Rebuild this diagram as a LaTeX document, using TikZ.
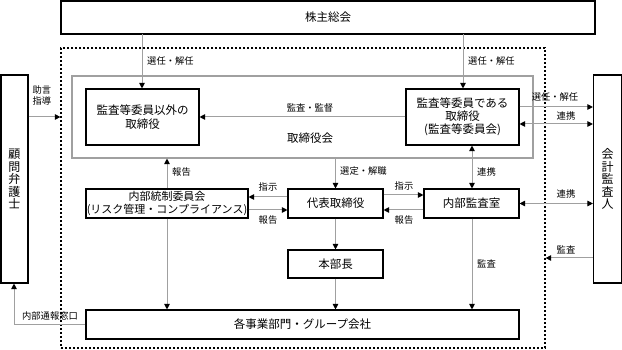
\documentclass[tikz,border=0pt]{standalone}
\usepackage{fontspec}
\setmainfont{Noto Sans CJK JP}
\usetikzlibrary{arrows.meta}
\definecolor{linegray}{HTML}{A0A0A0}
\tikzset{
  box/.style={draw=black, line width=1.1pt, fill=white, inner sep=0pt, align=center,
    font=\fontsize{11.5}{13.5}\selectfont},
  vbox/.style={box, font=\fontsize{12}{12.5}\selectfont},
  lbl/.style={inner sep=0pt, font=\fontsize{9.3}{11}\selectfont, align=center},
  conn/.style={draw=linegray, line width=1pt},
  tip/.style={conn, -{Triangle[color=black,length=5.5pt,width=5.5pt]}},
  dtip/.style={conn, {Triangle[color=black,length=5.5pt,width=5.5pt]}-{Triangle[color=black,length=5.5pt,width=5.5pt]}},
}
\begin{document}
\begin{tikzpicture}[x=1pt,y=-1pt]
\useasboundingbox (0,0) rectangle (622,350);
% outer dashed region
\node[draw=black, line width=1.2pt, dash pattern=on 2pt off 2pt, minimum width=484pt, minimum height=300pt, inner sep=0pt] (outer) at (303,198) {};
% board region
\node[draw=linegray, line width=1.1pt, minimum width=461pt, minimum height=82pt, inner sep=0pt] (board) at (302.5,117) {};
\node[inner sep=0pt, font=\fontsize{11.5}{13.5}\selectfont] (boardlbl) at (310,138) {取締役会};
% boxes
\node[box, minimum width=534pt, minimum height=33pt] (kabu) at (328,17.5) {株主総会};
\node[box, minimum width=113pt, minimum height=56pt] (dir1) at (142.5,117) {監査等委員以外の\\取締役};
\node[box, minimum width=113pt, minimum height=56pt, font=\fontsize{11.5}{13}\selectfont] (dir2) at (462.5,117) {監査等委員である\\取締役\\(監査等委員会)};
\node[vbox, minimum width=27pt, minimum height=208pt] (komon) at (14.5,179) {顧\\問\\弁\\護\\士};
\node[vbox, minimum width=28pt, minimum height=208pt] (kaikei) at (607.5,179) {会\\計\\監\\査\\人};
\node[box, minimum width=162pt, minimum height=29pt, font=\fontsize{11}{13}\selectfont] (naibu) at (167,203.5) {内部統制委員会\\(リスク管理・コンプライアンス)};
\node[box, minimum width=95pt, minimum height=29pt] (daihyo) at (335.5,203.5) {代表取締役};
\node[box, minimum width=95pt, minimum height=29pt] (kansa) at (471.5,203.5) {内部監査室};
\node[box, minimum width=95pt, minimum height=28pt] (honbu) at (335.5,264) {本部長};
\node[box, minimum width=433pt, minimum height=29pt] (jigyo) at (302.5,324.5) {各事業部門・グループ会社};
% coordinates
\coordinate (c1) at (142,34);
\coordinate (c2) at (463,34);
\coordinate (cw) at (14,324.5);
% connectors
\draw[tip] (c1) -- (dir1.north -| c1);
\node[lbl, anchor=west] at (147,61) {選任・解任};
\draw[tip] (c2) -- (dir2.north -| c2);
\node[lbl, anchor=west] at (468,61) {選任・解任};
\draw[tip] (dir2.west) -- (dir1.east);
\node[lbl] at (310,108) {監査・監督};
\draw[tip] (komon.east |- 0,117) -- (outer.west |- 0,117);
\node[lbl] at (42,95) {助言\\指導};
\draw[tip] (jigyo.west) -- (cw) -- (komon.south -| cw);
\node[lbl] at (50,316) {内部通報窓口};
\draw[tip] (dir2.east |- 0,107) -- (kaikei.west |- 0,107);
\node[lbl] at (555,97) {選任・解任};
\draw[dtip] (dir2.east |- 0,124) -- (kaikei.west |- 0,124);
\node[lbl] at (566,116) {連携};
\draw[tip] (naibu.north) -- (naibu.north |- board.south);
\node[lbl, anchor=west] at (172,172) {報告};
\draw[tip] (naibu.south) -- (naibu.south |- jigyo.north);
\draw[tip] (daihyo.north |- board.south) -- (daihyo.north);
\node[lbl, anchor=west] at (340,171) {選定・解職};
\draw[tip] (daihyo.west |- 0,197) -- (naibu.east |- 0,197);
\node[lbl] at (268,187) {指示};
\draw[tip] (naibu.east |- 0,210) -- (daihyo.west |- 0,210);
\node[lbl] at (268,220) {報告};
\draw[tip] (daihyo.east |- 0,195) -- (kansa.west |- 0,195);
\node[lbl] at (404,186) {指示};
\draw[tip] (kansa.west |- 0,210) -- (daihyo.east |- 0,210);
\node[lbl] at (404,220) {報告};
\draw[dtip] (kansa.north -| 472,0) -- (dir2.south -| 472,0);
\node[lbl, anchor=west] at (477,172) {連携};
\draw[dtip] (kansa.east) -- (kaikei.west |- kansa.east);
\node[lbl] at (566,194) {連携};
\draw[tip] (kaikei.west |- 0,258) -- (outer.east |- 0,258);
\node[lbl] at (566,250) {監査};
\draw[tip] (daihyo.south) -- (honbu.north);
\draw[tip] (honbu.south) -- (honbu.south |- jigyo.north);
\draw[tip] (kansa.south -| 472,0) -- (jigyo.north -| 472,0);
\node[lbl, anchor=west] at (477,264) {監査};
\end{tikzpicture}
\end{document}
